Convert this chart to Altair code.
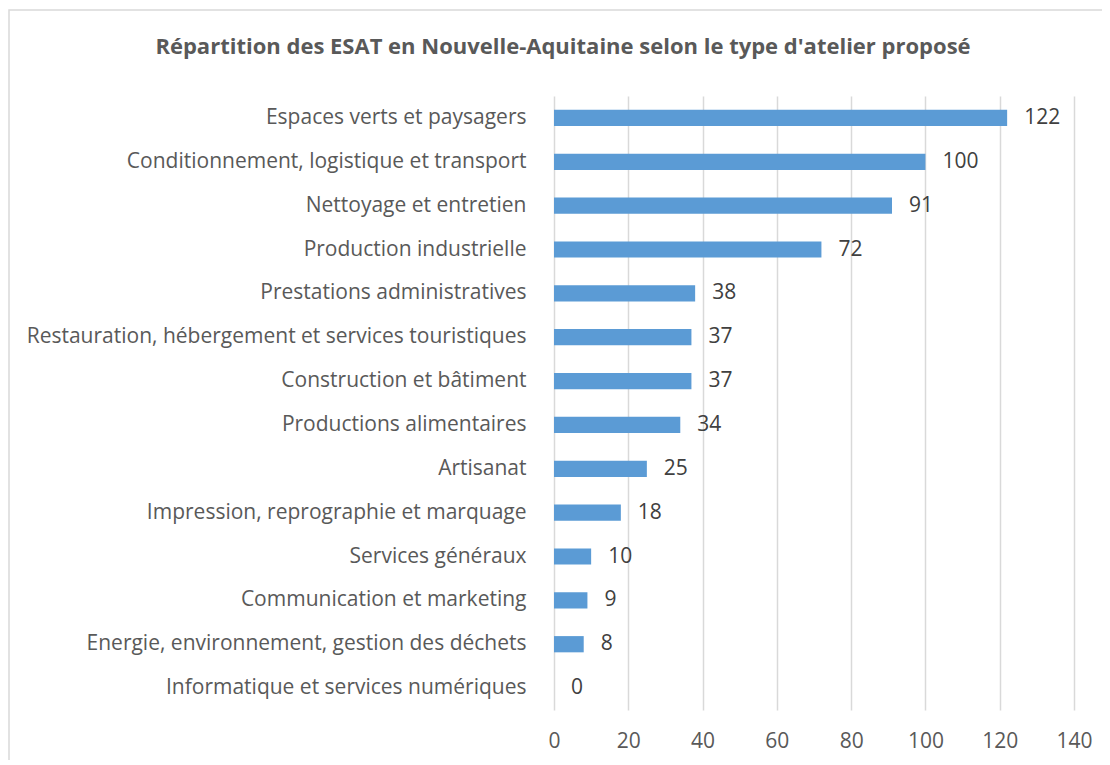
import altair as alt
import pandas as pd

TITLE = "Répartition des ESAT en Nouvelle-Aquitaine selon le type d'atelier proposé"
categories = [
    "Espaces verts et paysagers",
    "Conditionnement, logistique et transport",
    "Nettoyage et entretien",
    "Production industrielle",
    "Prestations administratives",
    "Restauration, hébergement et services touristiques",
    "Construction et bâtiment",
    "Productions alimentaires",
    "Artisanat",
    "Impression, reprographie et marquage",
    "Services généraux",
    "Communication et marketing",
    "Energie, environnement, gestion des déchets",
    "Informatique et services numériques",
]
values = [122, 100, 91, 72, 38, 37, 37, 34, 25, 18, 10, 9, 8, 0]
x_ticks = [0, 20, 40, 60, 80, 100, 120, 140]

df = pd.DataFrame({"cat": categories, "val": values})

FONT = "Open Sans"
FS = 21

y_enc = alt.Y(
    "cat:N",
    sort=categories,
    scale=alt.Scale(paddingInner=0.63, paddingOuter=0.315),
    axis=alt.Axis(
        title=None, domain=False, ticks=False, grid=False,
        labelFont=FONT, labelFontSize=FS, labelColor="#595959",
        labelPadding=28, labelLimit=600,
    ),
)
x_enc = alt.X(
    "val:Q",
    scale=alt.Scale(domain=[0, 140], nice=False),
    axis=alt.Axis(
        title=None, values=x_ticks, domain=False, ticks=False,
        grid=True, gridColor="#d9d9d9", gridWidth=1.5,
        labelFont=FONT, labelFontSize=FS, labelColor="#595959",
        labelPadding=20, labelFlush=False,
    ),
)

bars = alt.Chart(df).mark_bar(color="#5b9bd5").encode(x=x_enc, y=y_enc)
labels = alt.Chart(df).mark_text(
    align="left", baseline="middle", dx=17, font=FONT, fontSize=FS, color="#404040"
).encode(x="val:Q", y=alt.Y("cat:N", sort=categories), text="val:Q")

one = pd.DataFrame({"t": [TITLE]})
border = alt.Chart(one).mark_rect(
    fill=None, stroke="#d9d9d9", strokeWidth=1.5
).encode(
    x=alt.value(-545), x2=alt.value(700), y=alt.value(-86), y2=alt.value(800)
)
title = alt.Chart(one).mark_text(
    font=FONT, fontSize=22, fontWeight="bold", color="#595959",
    align="center", baseline="middle",
).encode(x=alt.value(9), y=alt.value(-49), text="t:N")

chart = alt.layer(border, title, bars, labels).properties(
    width=520,
    height=614,
    autosize=alt.AutoSizeParams(type="none"),
    padding={"left": 546, "top": 88, "right": 28, "bottom": 50},
).configure(background="white", view=alt.ViewConfig(stroke=None))

chart.save("out.html", embed_options={"renderer": "svg", "actions": False})
